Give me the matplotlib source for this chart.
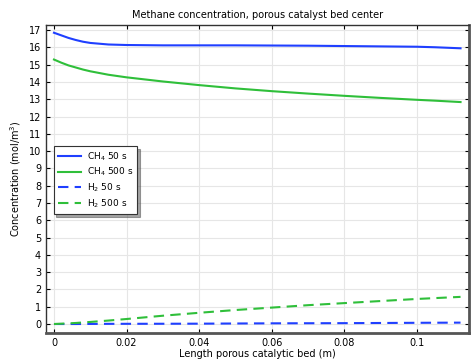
import numpy as np
import matplotlib.pyplot as plt

# Data
x = [0, 0.002, 0.004, 0.006, 0.008, 0.01, 0.015, 0.02, 0.03, 0.04, 0.05, 0.06, 0.07, 0.08, 0.09, 0.1, 0.105, 0.112]
ch4_50 = [16.85, 16.7, 16.55, 16.43, 16.33, 16.26, 16.17, 16.14, 16.12, 16.12, 16.12, 16.11, 16.1, 16.08, 16.06, 16.04, 16.01, 15.95]
ch4_500 = [15.3, 15.12, 14.96, 14.84, 14.72, 14.62, 14.42, 14.27, 14.03, 13.82, 13.63, 13.47, 13.33, 13.2, 13.08, 12.97, 12.92, 12.84]
h2_50 = [0, 0.0, 0.0, 0.0, 0.003, 0.005, 0.01, 0.012, 0.015, 0.02, 0.03, 0.04, 0.045, 0.05, 0.06, 0.07, 0.075, 0.08]
h2_500 = [0, 0.02, 0.04, 0.06, 0.09, 0.12, 0.2, 0.29, 0.48, 0.65, 0.81, 0.95, 1.09, 1.21, 1.33, 1.45, 1.5, 1.57]

blue = '#1f3fff'
green = '#2fbf3a'

fig = plt.figure(figsize=(4.77, 3.59), dpi=100)
ax = fig.add_axes([0.0964, 0.0724, 0.8866, 0.8576])

ax.plot(x, ch4_50, color=blue, lw=1.5, label='CH$_4$ 50 s')
ax.plot(x, ch4_500, color=green, lw=1.5, label='CH$_4$ 500 s')
ax.plot(x, h2_50, color=blue, lw=1.5, ls=(0, (5, 3)), label='H$_2$ 50 s')
ax.plot(x, h2_500, color=green, lw=1.5, ls=(0, (5, 3)), label='H$_2$ 500 s')

ax.set_xlim(-0.0022, 0.1143)
ax.set_ylim(-0.52, 17.29)
ax.set_xticks([0, 0.02, 0.04, 0.06, 0.08, 0.1])
ax.set_xticklabels(['0', '0.02', '0.04', '0.06', '0.08', '0.1'])
ax.set_yticks(range(0, 18))
ax.tick_params(direction='in', top=True, right=True, labelsize=7, length=3)
ax.grid(color='#e6e6e6', lw=0.8)

for s in ['left', 'top']:
    ax.spines[s].set_color('#333333')
    ax.spines[s].set_linewidth(1.0)
for s in ['right', 'bottom']:
    ax.spines[s].set_color('#555555')
    ax.spines[s].set_linewidth(2.0)

ax.set_title('Methane concentration, porous catalyst bed center', fontsize=7, pad=5)
ax.set_xlabel('Length porous catalytic bed (m)', fontsize=7, labelpad=1)
ax.set_ylabel('Concentration (mol/m$^3$)', fontsize=7, labelpad=4)

leg = ax.legend(loc='upper left', bbox_to_anchor=(0.018, 0.607), fontsize=6.5,
                fancybox=False, shadow=True, framealpha=1, edgecolor='#333333',
                handlelength=2.6, handletextpad=0.6, borderpad=0.45,
                labelspacing=0.35, borderaxespad=0)
leg.get_frame().set_linewidth(0.8)

fig.savefig('out.png', dpi=100)
